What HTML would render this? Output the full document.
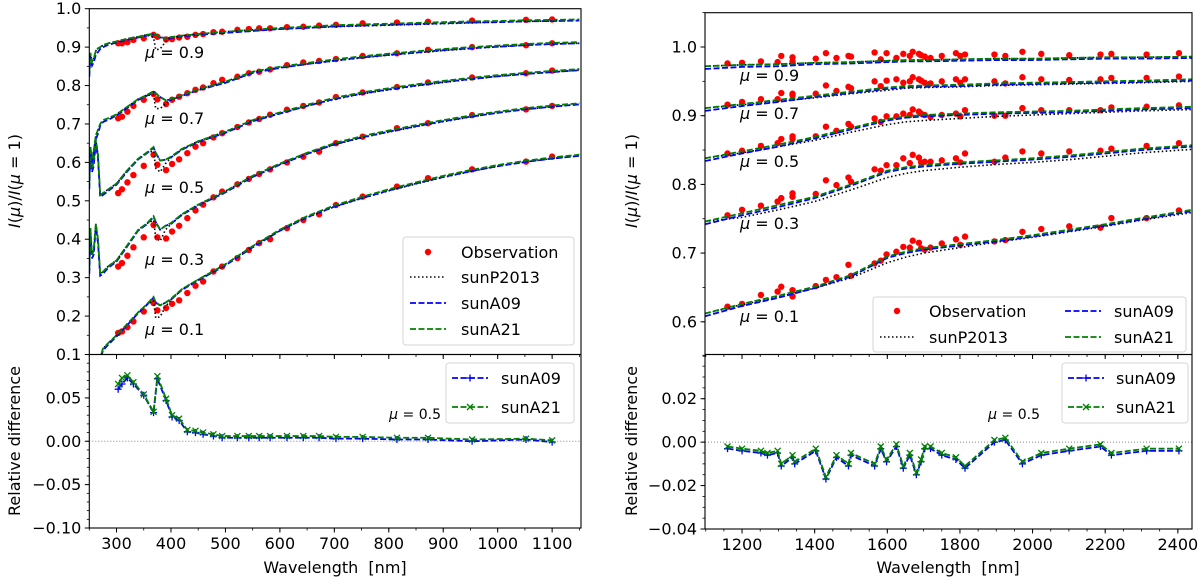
<!DOCTYPE html>
<html><head><meta charset="utf-8"><style>
html,body{margin:0;padding:0;background:#fff;}
svg{display:block;font-family:"DejaVu Sans","Liberation Sans",sans-serif;}
</style></head><body>
<svg id="chart" width="1200" height="581" viewBox="0 0 1200 581" xmlns="http://www.w3.org/2000/svg"></svg>
<script>
// ---------- data: left panel ----------
const modelW = [250,252,255,258,262,266,270,275,285,300,320,340,355,368,372,380,390,400,420,450,500,550,600,650,700,750,800,850,900,950,1000,1050,1100,1150];
const a21Mu01 = [0.05,0.05,0.05,0.06,0.07,0.08,0.09,0.115,0.13,0.15,0.18,0.21,0.23,0.25,0.235,0.228,0.235,0.245,0.27,0.295,0.335,0.382,0.425,0.46,0.488,0.51,0.53,0.548,0.565,0.58,0.593,0.604,0.613,0.62];
const a21Mu03 = [0.32,0.43,0.36,0.37,0.44,0.40,0.31,0.315,0.33,0.345,0.385,0.425,0.44,0.46,0.445,0.425,0.435,0.442,0.465,0.49,0.525,0.565,0.597,0.625,0.65,0.668,0.683,0.697,0.71,0.722,0.732,0.741,0.748,0.754];
const a21Mu05 = [0.54,0.64,0.585,0.60,0.66,0.62,0.515,0.52,0.53,0.545,0.58,0.61,0.625,0.64,0.625,0.605,0.607,0.615,0.635,0.655,0.68,0.71,0.73,0.75,0.768,0.782,0.793,0.803,0.812,0.82,0.827,0.833,0.838,0.843];
const a21Mu07 = [0.60,0.64,0.61,0.63,0.67,0.685,0.70,0.71,0.715,0.725,0.745,0.765,0.775,0.785,0.78,0.77,0.762,0.765,0.775,0.79,0.81,0.836,0.849,0.859,0.868,0.876,0.883,0.889,0.895,0.9,0.904,0.908,0.911,0.913];
const a21Mu09 = [0.833,0.885,0.862,0.87,0.89,0.897,0.9,0.905,0.91,0.915,0.922,0.927,0.932,0.935,0.933,0.925,0.924,0.926,0.93,0.934,0.94,0.945,0.95,0.953,0.957,0.959,0.961,0.963,0.965,0.967,0.968,0.97,0.971,0.972];
const p2013Delta = [0,0,0,0,0,0,0,0,0,0,0,0,0,-0.01,-0.04,-0.03,-0.01,-0.003,0,0,0,0,-0.002,-0.003,-0.004,-0.004,-0.004,-0.004,-0.004,-0.004,-0.003,-0.003,-0.003,-0.003];
const a09Delta = [-0.01,-0.01,-0.01,-0.01,-0.01,-0.01,-0.005,-0.005,-0.004,-0.003,-0.003,-0.002,-0.002,-0.002,0,0,0,-0.002,-0.002,-0.002,-0.003,-0.003,-0.003,-0.003,-0.003,-0.003,-0.003,-0.003,-0.003,-0.003,-0.003,-0.003,-0.003,-0.003];
const obsW = [303,310,320,331,350,368,375,391,402,415,430,445,459,478,494,522,543,562,582,613,643,672,703,752,815,872,953,1052,1100];
const obsMu01 = [0.156,0.16,0.171,0.186,0.212,0.234,0.215,0.221,0.232,0.241,0.26,0.279,0.29,0.316,0.329,0.351,0.372,0.39,0.4,0.429,0.45,0.465,0.489,0.511,0.537,0.559,0.582,0.602,0.615];
const obsMu03 = [0.329,0.338,0.357,0.379,0.405,0.437,0.405,0.402,0.42,0.435,0.455,0.475,0.49,0.509,0.524,0.543,0.557,0.57,0.582,0.6,0.615,0.628,0.65,0.667,0.689,0.702,0.723,0.738,0.747];
const obsMu05 = [0.52,0.53,0.548,0.567,0.591,0.62,0.594,0.58,0.596,0.608,0.624,0.641,0.65,0.665,0.676,0.692,0.704,0.713,0.724,0.737,0.747,0.756,0.77,0.782,0.796,0.808,0.821,0.832,0.839];
const obsMu07 = [0.715,0.719,0.732,0.747,0.763,0.778,0.764,0.752,0.763,0.771,0.78,0.789,0.795,0.806,0.815,0.823,0.832,0.836,0.842,0.853,0.86,0.864,0.869,0.877,0.884,0.893,0.9,0.905,0.91];
const obsMu09 = [0.91,0.91,0.913,0.919,0.923,0.932,0.927,0.92,0.921,0.925,0.927,0.932,0.934,0.939,0.94,0.945,0.947,0.949,0.949,0.952,0.953,0.956,0.958,0.962,0.964,0.966,0.969,0.971,0.972];
const diffA09L = [0.060,0.066,0.073,0.066,0.053,0.033,0.072,0.047,0.028,0.024,0.011,0.010,0.008,0.006,0.004,0.004,0.004,0.004,0.004,0.004,0.004,0.004,0.003,0.003,0.002,0.002,0.000,0.002,-0.001];
const diffA21L = [0.066,0.073,0.076,0.068,0.054,0.034,0.075,0.049,0.030,0.026,0.013,0.012,0.010,0.008,0.006,0.006,0.006,0.006,0.006,0.006,0.006,0.006,0.005,0.005,0.004,0.004,0.002,0.003,0.001];
// ---------- data: right panel ----------
const modelWR = [1098,1200,1300,1400,1500,1600,1650,1700,1800,1900,2000,2100,2200,2300,2439];
const a21R09 = [0.972,0.974,0.975,0.977,0.978,0.98,0.981,0.981,0.982,0.983,0.983,0.984,0.985,0.985,0.986];
const a21R07 = [0.911,0.917,0.923,0.929,0.935,0.941,0.943,0.944,0.945,0.947,0.948,0.949,0.95,0.951,0.953];
const a21R05 = [0.838,0.848,0.858,0.869,0.882,0.895,0.899,0.901,0.903,0.905,0.906,0.907,0.909,0.911,0.913];
const a21R03 = [0.746,0.758,0.770,0.782,0.800,0.820,0.825,0.828,0.832,0.835,0.838,0.842,0.847,0.852,0.857];
const a21R01 = [0.612,0.626,0.638,0.651,0.668,0.695,0.702,0.707,0.713,0.719,0.726,0.734,0.742,0.751,0.763];
const p13R09 = [0.972,0.974,0.975,0.977,0.978,0.98,0.981,0.981,0.982,0.983,0.983,0.984,0.985,0.985,0.986];
const p13R07 = [0.911,0.916,0.921,0.926,0.932,0.937,0.94,0.941,0.942,0.944,0.945,0.946,0.947,0.948,0.95];
const p13R05 = [0.838,0.846,0.855,0.864,0.876,0.887,0.891,0.893,0.896,0.899,0.901,0.903,0.905,0.907,0.909];
const p13R03 = [0.746,0.752,0.763,0.775,0.792,0.81,0.816,0.82,0.825,0.829,0.832,0.836,0.841,0.846,0.851];
const p13R01 = [0.612,0.625,0.636,0.649,0.664,0.686,0.694,0.70,0.708,0.716,0.723,0.731,0.739,0.748,0.759];
const a09RDelta = [-0.004,-0.003,-0.003,-0.002,-0.002,-0.002,-0.002,-0.002,-0.002,-0.002,-0.002,-0.002,-0.002,-0.002,-0.002];
const obsWR = [1160,1200,1252,1298,1308,1339,1339,1403,1431,1460,1493,1500,1565,1582,1598,1625,1644,1662,1670,1687,1693,1703,1719,1750,1789,1801,1814,1895,1925,1972,2024,2101,2187,2217,2314,2403];
const obsR09 = [0.976,0.977,0.979,0.978,0.987,0.985,0.979,0.983,0.991,0.984,0.987,0.986,0.992,0.982,0.991,0.984,0.99,0.987,0.993,0.99,0.988,0.986,0.984,0.987,0.991,0.987,0.989,0.989,0.987,0.993,0.99,0.988,0.989,0.99,0.989,0.991];
const obsR07 = [0.916,0.92,0.924,0.924,0.933,0.93,0.932,0.932,0.944,0.936,0.942,0.94,0.95,0.943,0.951,0.953,0.948,0.95,0.956,0.953,0.951,0.948,0.947,0.95,0.953,0.948,0.953,0.95,0.947,0.956,0.953,0.952,0.953,0.955,0.955,0.957];
const obsR05 = [0.845,0.849,0.856,0.86,0.866,0.87,0.866,0.87,0.884,0.878,0.888,0.884,0.896,0.891,0.899,0.899,0.903,0.901,0.909,0.906,0.903,0.901,0.898,0.901,0.903,0.899,0.908,0.9,0.9,0.911,0.908,0.908,0.908,0.912,0.913,0.915];
const obsR03 = [0.755,0.763,0.769,0.775,0.78,0.787,0.782,0.786,0.806,0.799,0.81,0.804,0.822,0.82,0.828,0.828,0.838,0.831,0.843,0.839,0.832,0.833,0.833,0.835,0.838,0.832,0.845,0.833,0.839,0.848,0.845,0.848,0.849,0.852,0.856,0.86];
const obsR01 = [0.622,0.626,0.639,0.644,0.651,0.646,0.637,0.652,0.661,0.665,0.683,0.667,0.685,0.689,0.698,0.702,0.709,0.708,0.718,0.715,0.707,0.705,0.708,0.714,0.72,0.712,0.724,0.717,0.719,0.731,0.735,0.739,0.737,0.751,0.751,0.762];
const diffWR = [1160,1200,1252,1270,1298,1308,1339,1345,1403,1431,1460,1493,1500,1565,1582,1598,1625,1644,1662,1680,1693,1703,1719,1750,1789,1814,1895,1925,1972,2024,2101,2187,2217,2314,2403];
const diffA21R = [-0.002,-0.003,-0.004,-0.005,-0.004,-0.010,-0.006,-0.009,-0.003,-0.016,-0.006,-0.010,-0.005,-0.010,-0.002,-0.008,-0.001,-0.011,-0.005,-0.014,-0.008,-0.002,-0.002,-0.005,-0.007,-0.011,0.001,0.002,-0.009,-0.005,-0.003,-0.001,-0.005,-0.003,-0.003];
const diffA09R = [-0.003,-0.004,-0.005,-0.006,-0.005,-0.011,-0.007,-0.010,-0.004,-0.017,-0.007,-0.011,-0.006,-0.011,-0.003,-0.009,-0.002,-0.012,-0.006,-0.015,-0.009,-0.003,-0.003,-0.006,-0.008,-0.012,0.000,0.001,-0.010,-0.006,-0.004,-0.002,-0.006,-0.004,-0.004];
const xTicksL = [300,400,500,600,700,800,900,1000,1100];
const xTicksR = [1200,1400,1600,1800,2000,2200,2400];
const yTicksLT = [0.1,0.2,0.3,0.4,0.5,0.6,0.7,0.8,0.9,1.0];
const yTicksLTLabels = ["0.1","0.2","0.3","0.4","0.5","0.6","0.7","0.8","0.9","1.0"];
const yTicksLB = [0.05,0,-0.05,-0.1];
const yTicksLBLabels = ["0.05","0.00","\u22120.05","\u22120.10"];
const yTicksRT = [0.6,0.7,0.8,0.9,1.0];
const yTicksRTLabels = ["0.6","0.7","0.8","0.9","1.0"];
const yTicksRB = [0.02,0,-0.02,-0.04];
const yTicksRBLabels = ["0.02","0.00","\u22120.02","\u22120.04"];
const muLabels = ["0.1","0.3","0.5","0.7","0.9"];

// ---------- helpers ----------
const NS = "http://www.w3.org/2000/svg";
const svg = document.getElementById("chart");
function el(tag, attrs, parent){ const e=document.createElementNS(NS,tag); for(const k in attrs) e.setAttribute(k,attrs[k]); (parent||svg).appendChild(e); return e; }
function lin(d0,d1,r0,r1){ return v => r0 + (v-d0)*(r1-r0)/(d1-d0); }

const LX = lin(250,1153,89.3,581), RX = lin(1098,2439,705,1192);
const LTY = lin(0.1,1.0,354.5,8.7), LBY = lin(-0.1,0.1,528,354.5);
const RTY = lin(0.5524,1.0499,354.5,12.7), RBY = lin(-0.04,0.04,529,355.3);

let clipN=0;
function clipFor(x0,y0,x1,y1){ const id='c'+(clipN++); const cp=el('clipPath',{id:id}); el('rect',{x:x0,y:y0,width:x1-x0,height:y1-y0},cp); return 'url(#'+id+')'; }

function pathD(xs,ys,fx,fy){ return xs.map((w,i)=>(i?'L':'M')+fx(w).toFixed(2)+','+fy(ys[i]).toFixed(2)).join(''); }

function line(g,xs,ys,fx,fy,color,dash,width,name){
  const p=el('path',{d:pathD(xs,ys,fx,fy),fill:'none',stroke:color,'stroke-width':width,'stroke-dasharray':dash},g);
  
  
  return p;
}
function dots(g,xs,ys,fx,fy,name){
  xs.forEach((w,i)=>{ const c=el('circle',{cx:fx(w),cy:fy(ys[i]),r:3.2,fill:'#ff0000'},g);
    
     });
}
function plusMarks(g,xs,ys,fx,fy,name){
  xs.forEach((w,i)=>{ const x=fx(w),y=fy(ys[i]);
    const m=el('path',{d:`M${x-3.5},${y}H${x+3.5}M${x},${y-3.5}V${y+3.5}`,stroke:'#0000ff','stroke-width':1.3},g);
    
     });
}
function xMarks(g,xs,ys,fx,fy,name){
  xs.forEach((w,i)=>{ const x=fx(w),y=fy(ys[i]);
    const m=el('path',{d:`M${x-3},${y-3}L${x+3},${y+3}M${x-3},${y+3}L${x+3},${y-3}`,stroke:'#008000','stroke-width':1.3},g);
    
     });
}
function text(x,y,s,anchor,size,name,extra){
  const t=el('text',Object.assign({x:x,y:y,'text-anchor':anchor,'font-size':size,fill:'#000'},extra||{}));
  t.textContent=s;
  
  
  return t;
}
function muText(x,y,val,size,name,anchor){
  const t=el('text',{x:x,y:y,'font-size':size,fill:'#000','text-anchor':anchor||'start'});
  
  
  const a=el('tspan',{'font-style':'italic'},t); a.textContent='\u03bc';
  const b=el('tspan',{},t); b.textContent=' = '+val;
  return t;
}
function frame(x0,y0,x1,y1,name){
  const r=el('rect',{x:x0,y:y0,width:x1-x0,height:y1-y0,fill:'none',stroke:'#000','stroke-width':1.1});
  
  
}
function yAxis(x0,ticks,labels,fy,minorFrom,minorTo,minorStep,name){
  ticks.forEach((v,i)=>{ const y=fy(v); el('line',{x1:x0-4.5,x2:x0,y1:y,y2:y,stroke:'#000','stroke-width':1});
    text(x0-8,y+5.5,labels[i],'end',16,name+'-label'); });
  for(let v=minorFrom; v<=minorTo+1e-9; v+=minorStep){ const y=fy(v); el('line',{x1:x0-2.5,x2:x0,y1:y,y2:y,stroke:'#000','stroke-width':0.8}); }
}
function xAxis(y0,ticks,fx,minorFrom,minorTo,minorStep,labelsOn,name){
  ticks.forEach(v=>{ const x=fx(v); el('line',{x1:x,x2:x,y1:y0,y2:y0+4.5,stroke:'#000','stroke-width':1});
    if(labelsOn) text(x,y0+21,String(v),'middle',16,name+'-label'); });
  for(let v=minorFrom; v<=minorTo+1e-9; v+=minorStep){ const x=fx(v); el('line',{x1:x,x2:x,y1:y0,y2:y0+2.5,stroke:'#000','stroke-width':0.8}); }
}
function yTitle(x,y,name){
  const t=el('text',{x:0,y:0,'text-anchor':'middle','font-size':16,fill:'#000',transform:`translate(${x},${y}) rotate(-90)`});
  
  
  const parts=[['I',1],['(',0],['\u03bc',1],[')/',0],['I',1],['(',0],['\u03bc',1],[' = 1)',0]];
  parts.forEach(p=>{ const s=el('tspan',p[1]?{'font-style':'italic'}:{},t); s.textContent=p[0]; });
}

// ---------- left top ----------
const gLT = el('g',{'clip-path':clipFor(89.3,8.7,581,354.5)});


const leftA21 = [a21Mu01,a21Mu03,a21Mu05,a21Mu07,a21Mu09];
const leftObs = [obsMu01,obsMu03,obsMu05,obsMu07,obsMu09];
leftA21.forEach((arr,k)=>{
  const p13 = arr.map((v,i)=>v+p2013Delta[i]);
  const a09 = arr.map((v,i)=>v+a09Delta[i]);
  dots(gLT,obsW,leftObs[k],LX,LTY,'observation-point');
  line(gLT,modelW,p13,LX,LTY,'#000','1.5,2.5',1.6,'sunP2013-curve');
  line(gLT,modelW,a09,LX,LTY,'#0000ff','6,2.5',1.8,'sunA09-curve');
  line(gLT,modelW,arr,LX,LTY,'#008000','6,2.5',1.8,'sunA21-curve');
});
const muYL=[329,259,187,118,52];
muLabels.forEach((s,k)=>muText(145,muYL[k]+6,s,16,'mu-label'));
frame(89.3,8.7,581,354.5,'left-top-axes');
yAxis(89.3,yTicksLT,yTicksLTLabels,LTY,0.15,0.95,0.1,'left-top-ytick');
xAxis(354.5,xTicksL,LX,250,1150,50,false,'left-top-xtick');
yTitle(20,181,'left-y-axis-title');

// legend left top
const lgL = el('g',{});


el('rect',{x:403,y:237,width:171,height:108,rx:3,fill:'#fff','fill-opacity':0.8,stroke:'#d6d6d6'},lgL);
el('circle',{cx:428,cy:252,r:3.2,fill:'#ff0000'},lgL);
el('line',{x1:410,x2:446,y1:277,y2:277,stroke:'#000','stroke-width':1.6,'stroke-dasharray':'1.5,2.5'},lgL);
el('line',{x1:410,x2:446,y1:303,y2:303,stroke:'#0000ff','stroke-width':1.8,'stroke-dasharray':'6,2.5'},lgL);
el('line',{x1:410,x2:446,y1:329,y2:329,stroke:'#008000','stroke-width':1.8,'stroke-dasharray':'6,2.5'},lgL);
text(461,258,'Observation','start',16,'legend-observation');
text(461,283,'sunP2013','start',16,'legend-sunP2013');
text(461,309,'sunA09','start',16,'legend-sunA09');
text(461,335,'sunA21','start',16,'legend-sunA21');

// ---------- left bottom ----------
const gLB = el('g',{'clip-path':clipFor(89.3,354.5,581,528)});


el('line',{x1:89.3,x2:581,y1:LBY(0),y2:LBY(0),stroke:'#888','stroke-width':1,'stroke-dasharray':'1,2'},gLB);
line(gLB,obsW,diffA09L,LX,LBY,'#0000ff','6,2.5',1.8,'sunA09-difference');
plusMarks(gLB,obsW,diffA09L,LX,LBY,'sunA09-marker');
line(gLB,obsW,diffA21L,LX,LBY,'#008000','6,2.5',1.8,'sunA21-difference');
xMarks(gLB,obsW,diffA21L,LX,LBY,'sunA21-marker');
frame(89.3,354.5,581,528,'left-bottom-axes');
yAxis(89.3,yTicksLB,yTicksLBLabels,LBY,-0.1,0.1,0.01,'left-bottom-ytick');
xAxis(528,xTicksL,LX,250,1150,50,true,'left-bottom-xtick');
text(0,0,'Relative difference','middle',16,'left-diff-y-axis-title',{transform:'translate(20,441) rotate(-90)'});
text(335,573,'Wavelength\u00a0\u00a0[nm]','middle',16,'left-x-axis-title');
const lgLB = el('g',{});


el('rect',{x:446,y:363,width:128,height:60,rx:3,fill:'#fff','fill-opacity':0.8,stroke:'#d6d6d6'},lgLB);
el('line',{x1:452,x2:488,y1:378,y2:378,stroke:'#0000ff','stroke-width':1.8,'stroke-dasharray':'6,2.5'},lgLB);
plusMarks(lgLB,[0],[0],()=>470,()=>378,'legend-plus-marker');
el('line',{x1:452,x2:488,y1:407,y2:407,stroke:'#008000','stroke-width':1.8,'stroke-dasharray':'6,2.5'},lgLB);
xMarks(lgLB,[0],[0],()=>470,()=>407,'legend-x-marker');
text(501,384,'sunA09','start',16,'legend-diff-sunA09');
text(501,413,'sunA21','start',16,'legend-diff-sunA21');
muText(441,419,'0.5',14,'mu-0.5-label-left','end');

// ---------- right top ----------
const gRT = el('g',{'clip-path':clipFor(705,12.7,1192,354.5)});


const rA21=[a21R01,a21R03,a21R05,a21R07,a21R09], rP13=[p13R01,p13R03,p13R05,p13R07,p13R09], rObs=[obsR01,obsR03,obsR05,obsR07,obsR09];
rA21.forEach((arr,k)=>{
  const a09 = arr.map((v,i)=>v+a09RDelta[i]);
  dots(gRT,obsWR,rObs[k],RX,RTY,'observation-point');
  line(gRT,modelWR,rP13[k],RX,RTY,'#000','1.5,2.5',1.6,'sunP2013-curve');
  line(gRT,modelWR,a09,RX,RTY,'#0000ff','6,2.5',1.8,'sunA09-curve');
  line(gRT,modelWR,arr,RX,RTY,'#008000','6,2.5',1.8,'sunA21-curve');
});
const muYR=[316,223,161,113,75];
muLabels.forEach((s,k)=>muText(740,muYR[k]+6,s,16,'mu-label'));
frame(705,12.7,1192,354.5,'right-top-axes');
yAxis(705,yTicksRT,yTicksRTLabels,RTY,0.55,1.05,0.05,'right-top-ytick');
xAxis(354.5,xTicksR,RX,1100,2400,50,false,'right-top-xtick');
yTitle(637,181,'right-y-axis-title');
const lgR = el('g',{});


el('rect',{x:873,y:297,width:313,height:55,rx:3,fill:'#fff','fill-opacity':0.8,stroke:'#d6d6d6'},lgR);
el('circle',{cx:897,cy:311,r:3.2,fill:'#ff0000'},lgR);
el('line',{x1:880,x2:915,y1:337,y2:337,stroke:'#000','stroke-width':1.6,'stroke-dasharray':'1.5,2.5'},lgR);
el('line',{x1:1065,x2:1101,y1:311,y2:311,stroke:'#0000ff','stroke-width':1.8,'stroke-dasharray':'6,2.5'},lgR);
el('line',{x1:1065,x2:1101,y1:337,y2:337,stroke:'#008000','stroke-width':1.8,'stroke-dasharray':'6,2.5'},lgR);
text(929,317,'Observation','start',16,'legend-observation');
text(929,343,'sunP2013','start',16,'legend-sunP2013');
text(1114,317,'sunA09','start',16,'legend-sunA09');
text(1114,343,'sunA21','start',16,'legend-sunA21');

// ---------- right bottom ----------
const gRB = el('g',{'clip-path':clipFor(705,354.5,1192,529)});


el('line',{x1:705,x2:1192,y1:RBY(0),y2:RBY(0),stroke:'#888','stroke-width':1,'stroke-dasharray':'1,2'},gRB);
line(gRB,diffWR,diffA09R,RX,RBY,'#0000ff','6,2.5',1.8,'sunA09-difference');
plusMarks(gRB,diffWR,diffA09R,RX,RBY,'sunA09-marker');
line(gRB,diffWR,diffA21R,RX,RBY,'#008000','6,2.5',1.8,'sunA21-difference');
xMarks(gRB,diffWR,diffA21R,RX,RBY,'sunA21-marker');
frame(705,354.5,1192,529,'right-bottom-axes');
yAxis(705,yTicksRB,yTicksRBLabels,RBY,-0.04,0.04,0.005,'right-bottom-ytick');
xAxis(529,xTicksR,RX,1100,2400,50,true,'right-bottom-xtick');
muText(1040,419,'0.5',14,'mu-0.5-label-right','end');
text(0,0,'Relative difference','middle',16,'right-diff-y-axis-title',{transform:'translate(637,441) rotate(-90)'});
text(948,573,'Wavelength\u00a0\u00a0[nm]','middle',16,'right-x-axis-title');
const lgRB = el('g',{});


el('rect',{x:1062,y:363,width:126,height:60,rx:3,fill:'#fff','fill-opacity':0.8,stroke:'#d6d6d6'},lgRB);
el('line',{x1:1068,x2:1104,y1:378,y2:378,stroke:'#0000ff','stroke-width':1.8,'stroke-dasharray':'6,2.5'},lgRB);
plusMarks(lgRB,[0],[0],()=>1086,()=>378,'legend-plus-marker');
el('line',{x1:1068,x2:1104,y1:407,y2:407,stroke:'#008000','stroke-width':1.8,'stroke-dasharray':'6,2.5'},lgRB);
xMarks(lgRB,[0],[0],()=>1086,()=>407,'legend-x-marker');
text(1116,384,'sunA09','start',16,'legend-diff-sunA09');
text(1116,413,'sunA21','start',16,'legend-diff-sunA21');
</script>
</body></html>
